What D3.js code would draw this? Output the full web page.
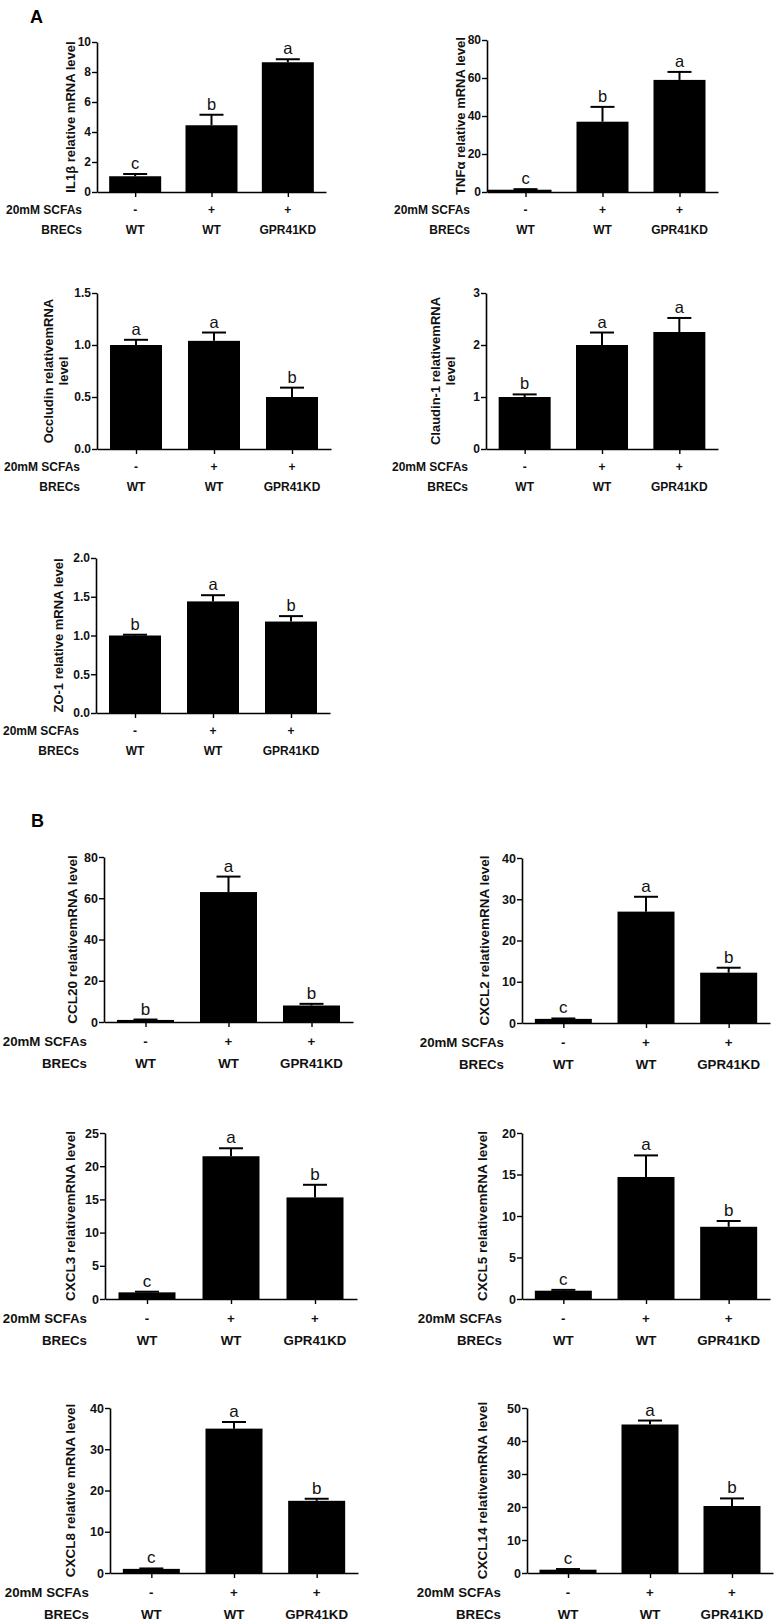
<!DOCTYPE html>
<html><head><meta charset="utf-8">
<script src="https://cdn.jsdelivr.net/npm/d3@7"></script>
<style>
html,body{margin:0;padding:0;background:#fff;}
svg{display:block;font-family:"Liberation Sans",Arial,Helvetica,sans-serif;}
</style></head>
<body>
<svg id="fig" width="774" height="1621"></svg>
<script>
// ---- categories ----
const scfaLabels = ["-", "+", "+"];
const brecLabels = ["WT", "WT", "GPR41KD"];

// ---- data (means, SEM, significance letters, y ticks) ----
const il1bMean = [1.05, 4.45, 8.65];  const il1bErr = [0.15, 0.7, 0.2];   const il1bSig = ["c","b","a"]; const il1bTicks = [0,2,4,6,8,10];
const tnfMean  = [1.2, 37, 59];       const tnfErr  = [0.3, 7.8, 4.2];    const tnfSig  = ["c","b","a"]; const tnfTicks  = [0,20,40,60,80];
const occMean  = [1.0, 1.04, 0.5];    const occErr  = [0.05, 0.08, 0.09]; const occSig  = ["a","a","b"]; const occTicks  = [0,0.5,1.0,1.5];
const cldMean  = [1.0, 2.0, 2.25];    const cldErr  = [0.05, 0.24, 0.27]; const cldSig  = ["b","a","a"]; const cldTicks  = [0,1,2,3];
const zo1Mean  = [1.0, 1.44, 1.18];   const zo1Err  = [0.01, 0.08, 0.07]; const zo1Sig  = ["b","a","b"]; const zo1Ticks  = [0,0.5,1.0,1.5,2.0];
const ccl20Mean = [1.0, 63, 8.0];     const ccl20Err = [0.2, 7.5, 0.8];   const ccl20Sig = ["b","a","b"]; const ccl20Ticks = [0,20,40,60,80];
const cxcl2Mean = [1.0, 27, 12.2];    const cxcl2Err = [0.1, 3.6, 1.2];   const cxcl2Sig = ["c","a","b"]; const cxcl2Ticks = [0,10,20,30,40];
const cxcl3Mean = [1.0, 21.5, 15.3];  const cxcl3Err = [0.1, 1.2, 1.9];   const cxcl3Sig = ["c","a","b"]; const cxcl3Ticks = [0,5,10,15,20,25];
const cxcl5Mean = [1.0, 14.7, 8.7];   const cxcl5Err = [0.1, 2.6, 0.7];   const cxcl5Sig = ["c","a","b"]; const cxcl5Ticks = [0,5,10,15,20];
const cxcl8Mean = [1.0, 35, 17.5];    const cxcl8Err = [0.1, 1.6, 0.5];   const cxcl8Sig = ["c","a","b"]; const cxcl8Ticks = [0,10,20,30,40];
const cxcl14Mean = [1.0, 45, 20.3];   const cxcl14Err = [0.2, 1.2, 2.3];  const cxcl14Sig = ["c","a","b"]; const cxcl14Ticks = [0,10,20,30,40,50];

// ---- panels: data reference + layout ----
const panels = [
  {title:["IL1β relative mRNA level"], mean:il1bMean, err:il1bErr, sig:il1bSig, ticks:il1bTicks, fmt:"d",
   x0:97, x1:326, top:42, bot:192, labX:[70], rowX:82, big:false},
  {title:["TNFα relative mRNA level"], mean:tnfMean, err:tnfErr, sig:tnfSig, ticks:tnfTicks, fmt:"d",
   x0:487, x1:718, top:40, bot:192, labX:[460], rowX:470, big:false, firstFromAxis:true},
  {title:["Occludin relativemRNA","level"], mean:occMean, err:occErr, sig:occSig, ticks:occTicks, fmt:".1f",
   x0:97, x1:331, top:293, bot:449, labX:[48,63], rowX:80, big:false},
  {title:["Claudin-1 relativemRNA","level"], mean:cldMean, err:cldErr, sig:cldSig, ticks:cldTicks, fmt:"d",
   x0:486, x1:718, top:293, bot:449, labX:[435,450], rowX:468, big:false},
  {title:["ZO-1 relative mRNA level"], mean:zo1Mean, err:zo1Err, sig:zo1Sig, ticks:zo1Ticks, fmt:".1f",
   x0:96, x1:330, top:558, bot:713, labX:[58], rowX:79, big:false},
  {title:["CCL20 relativemRNA level"], mean:ccl20Mean, err:ccl20Err, sig:ccl20Sig, ticks:ccl20Ticks, fmt:"d",
   x0:104, x1:353, top:857, bot:1022, labX:[72], rowX:87, big:true},
  {title:["CXCL2 relativemRNA level"], mean:cxcl2Mean, err:cxcl2Err, sig:cxcl2Sig, ticks:cxcl2Ticks, fmt:"d",
   x0:522, x1:770, top:858, bot:1023, labX:[484], rowX:504, big:true},
  {title:["CXCL3 relativemRNA level"], mean:cxcl3Mean, err:cxcl3Err, sig:cxcl3Sig, ticks:cxcl3Ticks, fmt:"d",
   x0:105, x1:357, top:1133, bot:1299, labX:[70], rowX:87, big:true},
  {title:["CXCL5 relativemRNA level"], mean:cxcl5Mean, err:cxcl5Err, sig:cxcl5Sig, ticks:cxcl5Ticks, fmt:"d",
   x0:522, x1:770, top:1133, bot:1299, labX:[482], rowX:502, big:true},
  {title:["CXCL8 relative mRNA level"], mean:cxcl8Mean, err:cxcl8Err, sig:cxcl8Sig, ticks:cxcl8Ticks, fmt:"d",
   x0:110, x1:358, top:1408, bot:1573, labX:[70], rowX:89, big:true},
  {title:["CXCL14 relativemRNA level"], mean:cxcl14Mean, err:cxcl14Err, sig:cxcl14Sig, ticks:cxcl14Ticks, fmt:"d",
   x0:527, x1:773, top:1408, bot:1573, labX:[482], rowX:501, big:true}
];

const svg = d3.select("#fig");
svg.append("text").attr("x",30).attr("y",23).attr("font-size",18).attr("font-weight","bold").text("A");
svg.append("text").attr("x",31).attr("y",827).attr("font-size",18).attr("font-weight","bold").text("B");

panels.forEach(p => {
  const fs = p.big ? 13.3 : 12;
  const tfs = p.big ? 12.5 : 12;
  const barW = p.big ? 57 : 52;
  const capW = 24;
  const letFs = p.big ? 17 : 16.5;
  const idx = [0,1,2];
  const x = d3.scalePoint().domain(idx).range([p.x0, p.x1]).padding(0.5);
  const y = d3.scaleLinear().domain([0, d3.max(p.ticks)]).range([p.bot, p.top]);
  const g = svg.append("g");

  const left = i => (i === 0 && p.firstFromAxis) ? p.x0 + 1 : x(i) - barW/2;
  // bars
  g.selectAll("rect.bar").data(idx).join("rect")
    .attr("x", left).attr("width", i => x(i) + barW/2 - left(i))
    .attr("y", i => y(p.mean[i])).attr("height", i => y(0) - y(p.mean[i]))
    .attr("fill", "#000");
  // error bars (upper)
  g.selectAll("line.eb").data(idx).join("line")
    .attr("x1", i => x(i)).attr("x2", i => x(i))
    .attr("y1", i => y(p.mean[i])).attr("y2", i => y(p.mean[i] + p.err[i]))
    .attr("stroke", "#000").attr("stroke-width", 2);
  g.selectAll("line.cap").data(idx).join("line")
    .attr("x1", i => x(i) - capW/2).attr("x2", i => x(i) + capW/2)
    .attr("y1", i => y(p.mean[i] + p.err[i])).attr("y2", i => y(p.mean[i] + p.err[i]))
    .attr("stroke", "#000").attr("stroke-width", 2);
  // significance letters
  g.selectAll("text.sig").data(idx).join("text")
    .attr("x", i => x(i)).attr("y", i => y(p.mean[i] + p.err[i]) - 5)
    .attr("text-anchor", "middle").attr("font-size", letFs).attr("fill","#111").text(i => p.sig[i]);

  // y axis
  const ya = g.append("g").attr("transform", `translate(${p.x0},0)`)
    .call(d3.axisLeft(y).tickValues(p.ticks).tickFormat(d3.format(p.fmt)).tickSize(5).tickSizeOuter(0));
  ya.select(".domain").attr("stroke-width", 1.6);
  ya.selectAll(".tick line").attr("stroke-width", 1.4);
  ya.selectAll(".tick text").attr("font-size", tfs).attr("font-weight", "bold")
    .attr("font-family", "Liberation Sans, Arial, sans-serif").attr("fill","#111").attr("x", -6);

  // x axis
  const xa = g.append("g").attr("transform", `translate(0,${p.bot})`)
    .call(d3.axisBottom(x).tickSize(5).tickSizeOuter(0).tickFormat(""));
  xa.select(".domain").attr("stroke-width", 1.6);
  xa.selectAll(".tick line").attr("stroke-width", 1.4);

  // y title
  const ymid = (p.top + p.bot) / 2;
  p.title.forEach((t, k) => {
    g.append("text").attr("transform", `translate(${p.labX[k]},${ymid}) rotate(-90)`)
      .attr("text-anchor","middle").attr("dominant-baseline","central")
      .attr("font-size", p.big ? 13.5 : 13).attr("font-weight","bold").attr("fill","#111").text(t);
  });

  // category rows
  const r1 = p.bot + (p.big ? 19.5 : 17.5), r2 = p.bot + (p.big ? 41 : 38);
  g.append("text").attr("x", p.rowX).attr("y", r1).attr("text-anchor","end").attr("dominant-baseline","central")
    .attr("font-size", fs).attr("font-weight","bold").attr("fill","#111").text("20mM SCFAs");
  g.append("text").attr("x", p.rowX).attr("y", r2).attr("text-anchor","end").attr("dominant-baseline","central")
    .attr("font-size", fs).attr("font-weight","bold").attr("fill","#111").text("BRECs");
  g.selectAll("text.scfa").data(idx).join("text")
    .attr("x", i => x(i)).attr("y", r1).attr("text-anchor","middle").attr("dominant-baseline","central")
    .attr("font-size", fs).attr("font-weight","bold").attr("fill","#111").text(i => scfaLabels[i]);
  g.selectAll("text.brec").data(idx).join("text")
    .attr("x", i => x(i)).attr("y", r2).attr("text-anchor","middle").attr("dominant-baseline","central")
    .attr("font-size", fs).attr("font-weight","bold").attr("fill","#111").text(i => brecLabels[i]);
});
</script>
</body></html>
